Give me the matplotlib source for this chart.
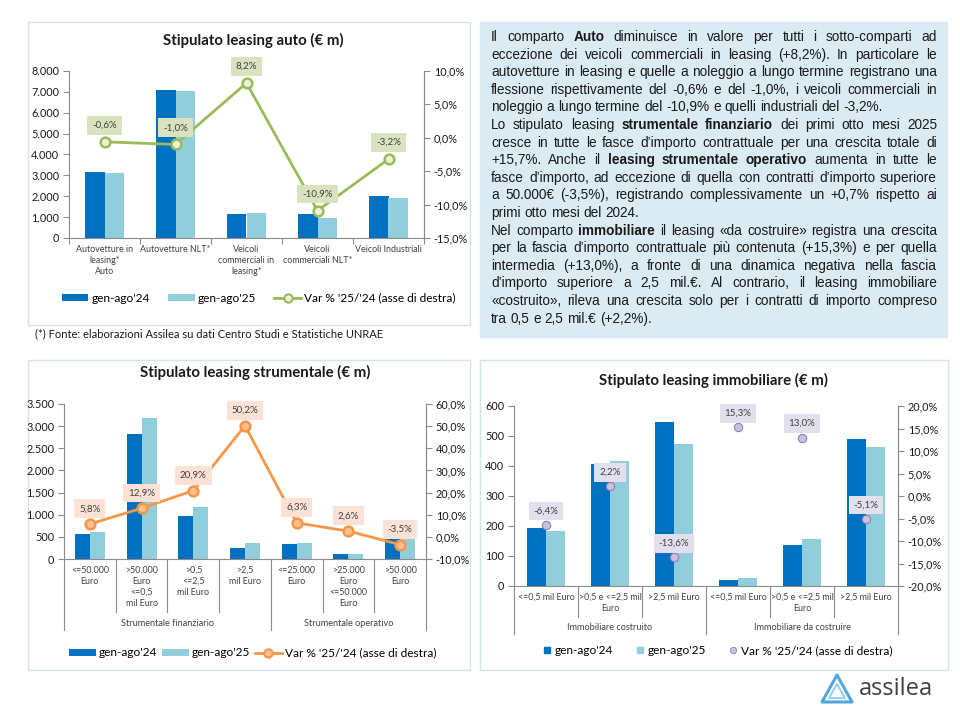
import matplotlib
matplotlib.use('Agg')
import matplotlib.pyplot as plt
from matplotlib.patches import Rectangle, Patch, Polygon
from matplotlib.lines import Line2D
from matplotlib.ticker import FuncFormatter, MultipleLocator
import matplotlib.transforms as mtransforms

# ---------------- data ----------------
auto_cats = ["Autovetture in\nleasing*\nAuto", "Autovetture NLT*", "Veicoli\ncommerciali in\nleasing*",
             "Veicoli\ncommerciali NLT*", "Veicoli Industriali"]
auto_24 = [3150, 7100, 1130, 1130, 2030]
auto_25 = [3100, 7020, 1220, 980, 1940]
auto_var = [-0.6, -1.0, 8.2, -10.9, -3.2]

strum_cats = ["<=50.000\nEuro", ">50.000\nEuro\n<=0,5\nmil Euro", ">0,5\n<=2,5\nmil Euro", ">2,5\nmil Euro",
              "<=25.000\nEuro", ">25.000\nEuro\n<=50.000\nEuro", ">50.000\nEuro"]
strum_groups = ["Strumentale finanziario", "Strumentale operativo"]
strum_group_sizes = [4, 3]
strum_24 = [570, 2820, 970, 250, 340, 115, 500]
strum_25 = [610, 3190, 1170, 370, 365, 115, 480]
strum_var = [5.8, 12.9, 20.9, 50.2, 6.3, 2.6, -3.5]

immo_cats = ["<=0,5 mil Euro", ">0,5 e <=2,5 mil\nEuro", ">2,5 mil Euro",
             "<=0,5 mil Euro", ">0,5 e <=2,5 mil\nEuro", ">2,5 mil Euro"]
immo_groups = ["Immobiliare costruito", "Immobiliare da costruire"]
immo_group_sizes = [3, 3]
immo_24 = [195, 408, 548, 20, 138, 490]
immo_25 = [182, 418, 474, 28, 158, 463]
immo_var = [-6.4, 2.2, -13.6, 15.3, 13.0, -5.1]

series_labels = ["gen-ago'24", "gen-ago'25", "Var % '25/'24 (asse di destra)"]

text_lines = [
    ("Il comparto **Auto** diminuisce in valore per tutti i sotto-comparti ad", True),
    ("eccezione dei veicoli commerciali in leasing (+8,2%). In particolare le", True),
    ("autovetture in leasing e quelle a noleggio a lungo termine registrano una", True),
    ("flessione rispettivamente del -0,6% e del -1,0%, i veicoli commerciali in", True),
    ("noleggio a lungo termine del -10,9% e quelli industriali del -3,2%.", False),
    ("Lo stipulato leasing **strumentale finanziario** dei primi otto mesi 2025", True),
    ("cresce in tutte le fasce d\u2019importo contrattuale per una crescita totale di", True),
    ("+15,7%. Anche il **leasing strumentale operativo** aumenta in tutte le", True),
    ("fasce d\u2019importo, ad eccezione di quella con contratti d\u2019importo superiore", True),
    ("a 50.000\u20ac (-3,5%), registrando complessivamente un +0,7% rispetto ai", True),
    ("primi otto mesi del 2024.", False),
    ("Nel comparto **immobiliare** il leasing \u00abda costruire\u00bb registra una crescita", True),
    ("per la fascia d\u2019importo contrattuale pi\u00f9 contenuta (+15,3%) e per quella", True),
    ("intermedia (+13,0%), a fronte di una dinamica negativa nella fascia", True),
    ("d\u2019importo superiore a 2,5 mil.\u20ac. Al contrario, il leasing immobiliare", True),
    ("\u00abcostruito\u00bb, rileva una crescita solo per i contratti di importo compreso", True),
    ("tra 0,5 e 2,5 mil.\u20ac (+2,2%).", False),
]
footnote = "(*) Fonte: elaborazioni Assilea su dati Centro Studi e Statistiche UNRAE"

# ---------------- style ----------------
W, H = 960, 720
CF = ['Lato', 'DejaVu Sans']
TF = ['Liberation Sans', 'DejaVu Sans']
plt.rcParams['font.family'] = CF
DARK = '#0070C0'
LIGHT = '#92CDDC'
AXC = '#8C8C8C'
PANEL_EC = '#D5E3EA'

fig = plt.figure(figsize=(9.6, 7.2), dpi=100)


def fx(x):
    return x / W


def fy(y):
    return 1 - y / H


def rect(x0, y0, x1, y1):
    return [x0 / W, 1 - y1 / H, (x1 - x0) / W, (y1 - y0) / H]


def panel(x0, y0, x1, y1, fc='white', ec=PANEL_EC):
    fig.patches.append(Rectangle((fx(x0), fy(y1)), (x1 - x0) / W, (y1 - y0) / H,
                                 transform=fig.transFigure, fc=fc, ec=ec, lw=1.0, zorder=-5))


def thousands(v, pos):
    return f"{int(round(v)):,}".replace(',', '.')


def pctfmt(v, pos):
    return f"{v:.1f}%".replace('.', ',')


def pct_label(v):
    return f"{v:.1f}%".replace('.', ',')


def combo(r, cats, v24, v25, var, ylim, ystep, rlim, rstep, bw, mode, color, mfc, lab_fc,
          lab_off, cat_fs=6.4, ms=7):
    ax = fig.add_axes(rect(*r))
    n = len(cats)
    xs = list(range(n))
    ax.bar([x - bw / 2 for x in xs], v24, width=bw, color=DARK, zorder=2)
    ax.bar([x + bw / 2 for x in xs], v25, width=bw, color=LIGHT, zorder=2)
    ax.set_xlim(-0.5, n - 0.5)
    ax.set_ylim(*ylim)
    ax.yaxis.set_major_locator(MultipleLocator(ystep))
    ax.yaxis.set_major_formatter(FuncFormatter(thousands))
    for s in ['top']:
        ax.spines[s].set_visible(False)
    for s in ['left', 'bottom', 'right']:
        ax.spines[s].set_color(AXC)
        ax.spines[s].set_linewidth(0.8)
    ax.tick_params(axis='y', labelsize=7.8, length=4, color=AXC, width=0.8, pad=3)
    ax.set_xticks(xs)
    ax.set_xticklabels(cats, fontsize=cat_fs, color='#404040', linespacing=1.3)
    ax.tick_params(axis='x', length=0, pad=5)
    ax.patch.set_alpha(0)
    ax2 = ax.twinx()
    ax2.set_ylim(*rlim)
    ax2.yaxis.set_major_locator(MultipleLocator(rstep))
    ax2.yaxis.set_major_formatter(FuncFormatter(pctfmt))
    ax2.tick_params(axis='y', labelsize=7.8, length=4, color=AXC, width=0.8, pad=3)
    for s in ['top', 'left', 'bottom']:
        ax2.spines[s].set_visible(False)
    ax2.spines['right'].set_color(AXC)
    ax2.spines['right'].set_linewidth(0.8)
    if mode == 'line':
        ax2.plot(xs, var, color=color, lw=2.0, marker='o', ms=ms, mfc=mfc, mec=color, mew=1.8, zorder=5)
    else:
        ax2.plot(xs, var, ls='none', marker='o', ms=ms, mfc=mfc, mec='#8E7CC3', mew=0.8, zorder=5)
    for x, v in zip(xs, var):
        ax2.annotate(pct_label(v), (x, v), xytext=(0, lab_off), textcoords='offset points',
                     ha='center', va='center', fontsize=7, color='#404040', zorder=6,
                     bbox=dict(boxstyle='square,pad=0.5', fc=lab_fc, ec='none'))
    for t in ax.get_yticklabels() + ax2.get_yticklabels():
        t.set_color('#1a1a1a')
    return ax, ax2


def groups_axis(ax, sizes, names, inner_f, outer_f, lab_f, fs=6.6):
    tr = mtransforms.blended_transform_factory(ax.transData, ax.transAxes)
    b = -0.5
    bounds = [b]
    for s in sizes:
        b += s
        bounds.append(b)
    n = sum(sizes)
    for i in range(n + 1):
        x = -0.5 + i
        f = outer_f if x in bounds else inner_f
        ax.plot([x, x], [0, -f], transform=tr, clip_on=False, color=AXC, lw=0.8)
    for i, name in enumerate(names):
        c = (bounds[i] + bounds[i + 1]) / 2
        ax.text(c, -lab_f, name, transform=tr, ha='center', va='center', fontsize=fs, color='#404040')


# ---------------- panels ----------------
panel(28, 22, 470, 325)
panel(480, 22, 947, 337, fc='#DAEBF3', ec='#DAEBF3')
panel(28, 360, 470, 670)
panel(480, 360, 948, 670)

# ---------------- top-left: auto ----------------
ax, ax2 = combo((69, 71, 424, 238), auto_cats, auto_24, auto_25, auto_var,
                (0, 8000), 1000, (-15, 10), 5, 0.28, 'line', '#9BBB59', '#EBF1DE', '#D7E4BD', 12)
ax.set_xticks([-0.5 + i for i in range(6)], minor=True)
ax.tick_params(axis='x', which='minor', length=4, color=AXC, width=0.8)
fig.text(fx(253), fy(40), "Stipulato leasing auto (\u20ac m)", ha='center', va='center',
         fontsize=10.8, fontweight='bold', color='#1a1a1a')
h = [Patch(fc=DARK), Patch(fc=LIGHT),
     Line2D([], [], color='#9BBB59', lw=2, marker='o', ms=6, mfc='#EBF1DE', mec='#9BBB59', mew=1.5)]
fig.legend(h, series_labels, loc='center', bbox_to_anchor=(fx(259), fy(298)), ncol=3, frameon=False,
           fontsize=8.6, handlelength=2.2, handleheight=0.5, columnspacing=1.5, handletextpad=0.3)
fig.text(fx(35), fy(334), footnote, ha='left', va='center', fontsize=8, color='#1a1a1a')

# ---------------- bottom-left: strumentale ----------------
ax, ax2 = combo((64, 404, 426, 559), strum_cats, strum_24, strum_25, strum_var,
                (0, 3500), 500, (-10, 60), 10, 0.29, 'line', '#F79646', '#FAC090', '#FBE2D5', 11)
groups_axis(ax, strum_group_sizes, strum_groups, 53 / 155, 71 / 155, 65 / 155)
fig.text(fx(255), fy(372), "Stipulato leasing strumentale (\u20ac m)", ha='center', va='center',
         fontsize=10.8, fontweight='bold', color='#1a1a1a')
h = [Patch(fc=DARK), Patch(fc=LIGHT),
     Line2D([], [], color='#F79646', lw=2, marker='o', ms=6, mfc='#FAC090', mec='#F79646', mew=1.5)]
fig.legend(h, series_labels, loc='center', bbox_to_anchor=(fx(253), fy(653)), ncol=3, frameon=False,
           fontsize=8.6, handlelength=2.2, handleheight=0.5, columnspacing=0.4, handletextpad=0.3)

# ---------------- bottom-right: immobiliare ----------------
ax, ax2 = combo((514, 406, 898, 586), immo_cats, immo_24, immo_25, immo_var,
                (0, 600), 100, (-20, 20), 5, 0.30, 'points', None, '#CCC1DA', '#E4DFEC', 10, ms=6)
groups_axis(ax, immo_group_sizes, immo_groups, 31 / 180, 48 / 180, 42 / 180)
fig.text(fx(713), fy(380), "Stipulato leasing immobiliare (\u20ac m)", ha='center', va='center',
         fontsize=10.8, fontweight='bold', color='#1a1a1a')
h = [Line2D([], [], ls='none', marker='s', ms=5, color=DARK),
     Line2D([], [], ls='none', marker='s', ms=5, color=LIGHT),
     Line2D([], [], ls='none', marker='o', ms=4.5, mfc='#CCC1DA', mec='#8E7CC3', mew=0.6)]
fig.legend(h, series_labels, loc='center', bbox_to_anchor=(fx(718), fy(651)), ncol=3, frameon=False,
           fontsize=8.6, handlelength=0.6, columnspacing=2.0, handletextpad=0.3)

# ---------------- justified text box ----------------
renderer = fig.canvas.get_renderer()


def tw(s, bold, fs):
    t = fig.text(0, 0, s, fontsize=fs, family=TF, weight='bold' if bold else 'normal')
    w = t.get_window_extent(renderer).width
    t.remove()
    return w


def parse(line):
    parts = line.split('**')
    words = []
    for i, p in enumerate(parts):
        for w in p.split():
            words.append((w, i % 2 == 1))
    return words


def natural_width(line, fs):
    words = parse(line)
    sp = tw('a a', False, fs) - tw('aa', False, fs)
    return sum(tw(w, b, fs) for w, b in words) + sp * (len(words) - 1)


x0, x1 = 491, 937
fs = 10.0 * 392.0 / natural_width(text_lines[4][0], 10.0)
space = tw('a a', False, fs) - tw('aa', False, fs)
y_first, dy = 41.0, 17.6
for i, (line, just) in enumerate(text_lines):
    words = parse(line)
    widths = [tw(w, b, fs) for w, b in words]
    gap = (x1 - x0 - sum(widths)) / (len(words) - 1) if (just and len(words) > 1) else space
    x = x0
    y = y_first + i * dy
    for (w, b), wd in zip(words, widths):
        fig.text(fx(x), fy(y), w, fontsize=fs, family=TF, weight='bold' if b else 'normal',
                 ha='left', va='baseline', color='#1a1a1a')
        x += wd + gap

# ---------------- logo ----------------
fig.patches.append(Polygon([(fx(837), fy(675)), (fx(822), fy(702)), (fx(852), fy(702))], closed=True,
                           fill=False, ec='#4FA8DC', lw=2.2, transform=fig.transFigure, joinstyle='round'))
fig.patches.append(Polygon([(fx(837), fy(684)), (fx(829), fy(698)), (fx(845), fy(698))], closed=True,
                           fill=False, ec='#9AD0F0', lw=1.5, transform=fig.transFigure, joinstyle='round'))
fig.text(fx(859), fy(689), "assilea", ha='left', va='center', fontsize=17, color='#404040',
         family=['Open Sans', 'DejaVu Sans'])

fig.savefig('out.png', dpi=100)
